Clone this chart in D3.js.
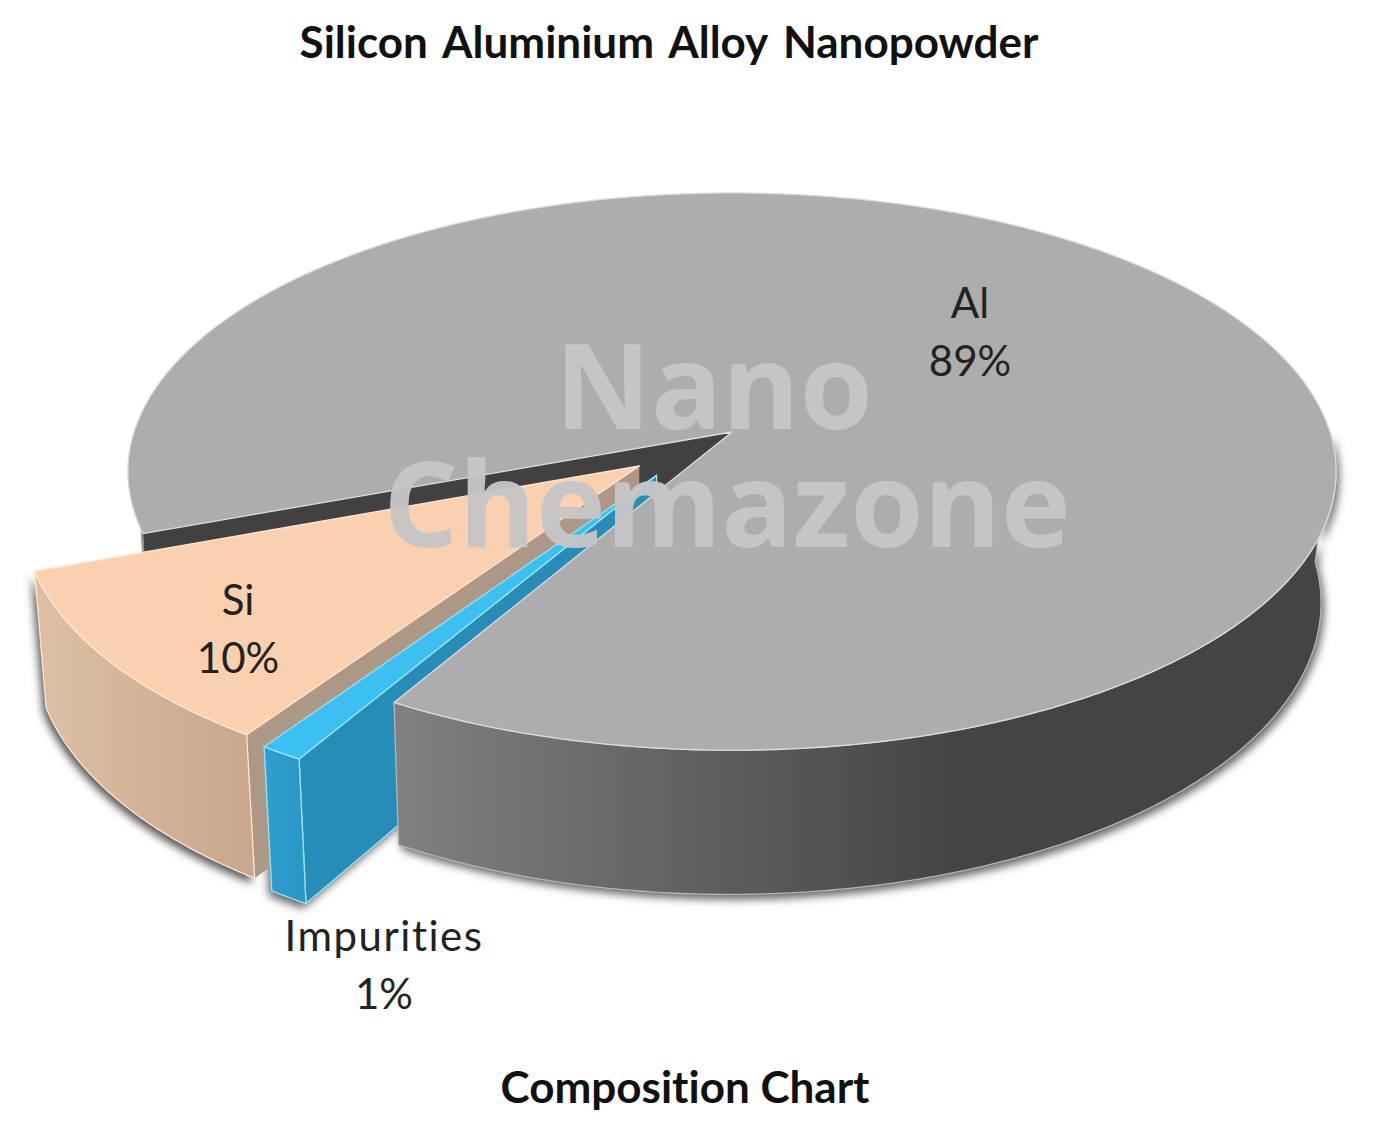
<html>
<head>
<meta charset="utf-8">
<title>Silicon Aluminium Alloy Nanopowder</title>
<style type="text/css">
  body { margin: 0; background: #fff; }
  text { font-family: Lato, "Open Sans", sans-serif; text-anchor: middle; font-variant-ligatures: none; }
  .title { font-size: 44px; font-weight: 700; fill: #111; }
  .label { font-size: 42px; font-weight: 400; fill: #222; }
  .mark { font-family: "Open Sans", sans-serif; font-weight: 700; fill: #c6c6c6; opacity: .96; }
</style>
<script src="https://d3js.org/d3.v7.min.js"></script>
</head>
<body>
<svg width="1396" height="1132"></svg>
<script>
// data
var categories = ["Al", "Impurities", "Si"];
var percents = [89, 1, 10];
var percentLabels = ["89%", "1%", "10%"];

var topColors = ["#adadad", "#3cbff1", "#fbd0ae"];
var startWallColors = ["#414141", "#268cb8", "#ad9885"];
var edgeColors = ["#dcdcdc", "#9be2f8", "#ffe6d2"];
var explode = [0, 0.198, 0.195];
var explodeTurn = [0, 7, 0]; // degrees, the impurities piece drifts a bit left of its middle

var svg = d3.select("svg");
var defs = svg.append("defs");

defs.append("filter").attr("id", "soft")
  .attr("x", "-10%").attr("y", "-10%").attr("width", "120%").attr("height", "120%")
  .append("feGaussianBlur").attr("stdDeviation", 4);

function gradient(id, x1, x2, from, to) {
  var g = defs.append("linearGradient").attr("id", id)
    .attr("gradientUnits", "userSpaceOnUse")
    .attr("x1", x1).attr("x2", x2).attr("y1", 0).attr("y2", 0);
  g.append("stop").attr("offset", 0).attr("stop-color", from);
  g.append("stop").attr("offset", 1).attr("stop-color", to);
}
gradient("alWall", 400, 960, "#808080", "#444444");
gradient("siWall", 40, 255, "#dcbfa4", "#c8a78c");
gradient("impWall", 265, 305, "#2c9fd0", "#2a96c4");
var outerFills = ["url(#alWall)", "url(#impWall)", "url(#siWall)"];

// perspective view of the disc: x,y in disc units, z = 0 top face, 1 bottom face
var xScale = d3.scaleLinear().domain([-1, 1]).range([732 - 598, 732 + 598]);
var yScale = d3.scaleLinear().domain([-1, 1]).range([432 - 273, 432 + 273]);
var depth = 133, tilt = 0.142, sink = 0.02, lean = 3;

function project(p) {
  var w = 1 - tilt * p[1] + sink * p[2];
  return [
    xScale(p[0] / w) - lean * p[2],
    yScale(0) + (yScale(p[1]) - yScale(0) + depth * p[2]) / w
  ];
}

var line = d3.line().x(function(d) { return project(d)[0]; }).y(function(d) { return project(d)[1]; });

var rad = Math.PI / 180;
var pie = d3.pie().sort(null).value(function(d) { return d; })
  .startAngle(249.3 * rad).endAngle((249.3 + 360) * rad);
var slices = pie(percents);

function offset(i) {
  var mid = (slices[i].startAngle + slices[i].endAngle) / 2 + explodeTurn[i] * rad;
  return [explode[i] * Math.sin(mid), -explode[i] * Math.cos(mid)];
}
function rim(a, i, z) {
  var o = offset(i);
  return [Math.sin(a) + o[0], -Math.cos(a) + o[1], z];
}
function apex(i, z) {
  var o = offset(i);
  return [o[0], o[1], z];
}
function arcPoints(a0, a1, i, z) {
  var n = Math.max(2, Math.ceil(Math.abs(a1 - a0) / 0.01));
  return d3.range(n + 1).map(function(k) { return rim(a0 + (a1 - a0) * k / n, i, z); });
}
function topFace(i) {
  var s = slices[i];
  return [apex(i, 0)].concat(arcPoints(s.startAngle, s.endAngle, i, 0));
}
function outerWall(i, a0, a1) {
  return arcPoints(a0, a1, i, 0).concat(arcPoints(a1, a0, i, 1));
}
function startWall(i) {
  var a = slices[i].startAngle;
  return [apex(i, 0), rim(a, i, 0), rim(a, i, 1), apex(i, 1)];
}
function draw(g, pts, fill, stroke) {
  return g.append("path").attr("d", line(pts) + "Z").attr("fill", fill)
    .attr("stroke", stroke || "none").attr("stroke-width", stroke ? 1.3 : 0)
    .attr("stroke-linejoin", "round");
}

var AL = 0, IMP = 1, SI = 2;
// part of the Al rim that can be seen: left of the gap, then front right
var alLeftEnd = 270 * rad;
var alFrontStart = 450 * rad;

// soft shadow under the pieces
var shadow = svg.append("g").attr("filter", "url(#soft)").attr("transform", "translate(-3,5)");
draw(shadow, outerWall(SI, slices[SI].startAngle, slices[SI].endAngle), "#555");
draw(shadow, outerWall(IMP, slices[IMP].startAngle, slices[IMP].endAngle), "#666");
draw(shadow, startWall(IMP), "#666");
var shadowAl = svg.append("g").attr("filter", "url(#soft)").attr("transform", "translate(3,5)");
draw(shadowAl, outerWall(AL, alFrontStart, slices[AL].endAngle), "#666");

var pieG = svg.append("g");

// Al: back walls first, the exploded pieces stand in front of them
draw(pieG, outerWall(AL, slices[AL].startAngle, alLeftEnd), "#949494");
draw(pieG, startWall(AL), startWallColors[AL]);

// Si
draw(pieG, startWall(SI), startWallColors[SI]);
draw(pieG, outerWall(SI, slices[SI].startAngle, slices[SI].endAngle), outerFills[SI], edgeColors[SI]);
draw(pieG, topFace(SI), topColors[SI], edgeColors[SI]);

// Impurities
draw(pieG, startWall(IMP), startWallColors[IMP], edgeColors[IMP]);
draw(pieG, outerWall(IMP, slices[IMP].startAngle, slices[IMP].endAngle), outerFills[IMP], edgeColors[IMP]);
draw(pieG, topFace(IMP), topColors[IMP], edgeColors[IMP]);

// Al front wall and top hide the far end of the gap
draw(pieG, outerWall(AL, alFrontStart, slices[AL].endAngle), outerFills[AL], "#b5b5b5");
draw(pieG, topFace(AL), topColors[AL], edgeColors[AL]);

// watermark
svg.append("text").attr("class", "mark").attr("x", 714).attr("y", 429).style("font-size", "118px").text("Nano");
svg.append("text").attr("class", "mark").attr("x", 727).attr("y", 547).style("font-size", "118px").text("Chemazone");

// labels
var labelX = [970, 384, 238];
var labelY = [318, 951, 615];
var labelSpacing = [0, 1.5, 0];
categories.forEach(function(c, i) {
  svg.append("text").attr("class", "label").attr("x", labelX[i]).attr("y", labelY[i])
    .style("letter-spacing", labelSpacing[i] + "px").text(c);
  svg.append("text").attr("class", "label").attr("x", labelX[i]).attr("y", labelY[i] + 58).text(percentLabels[i]);
});

svg.append("text").attr("class", "title").attr("x", 669).attr("y", 58).style("word-spacing", "5px").text("Silicon Aluminium Alloy Nanopowder");
svg.append("text").attr("class", "title").attr("x", 685).attr("y", 1103).text("Composition Chart");
</script>
</body>
</html>
